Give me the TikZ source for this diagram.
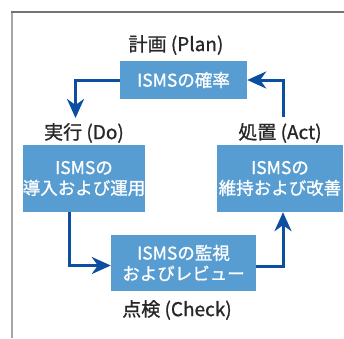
\documentclass[tikz,border=0pt]{standalone}
\usepackage{fontspec}
\setmainfont{Noto Sans CJK JP}[FakeBold=0.8]
\newfontfamily\boldish{Noto Sans CJK JP}[FakeBold=1.0]
\usetikzlibrary{arrows.meta}
\definecolor{boxblue}{RGB}{88,157,209}
\definecolor{arrowblue}{RGB}{12,78,160}
\definecolor{lbl}{RGB}{40,38,40}
\tikzset{
  box/.style={fill=boxblue, text=white, inner sep=0pt, align=center,
    font=\boldish\fontsize{17.5}{20.5}\selectfont},
  lab/.style={text=lbl, inner sep=0pt, font=\boldish\fontsize{19}{20}\selectfont},
  flow/.style={draw=arrowblue, line width=3pt,
    -{Stealth[length=19pt,width=17pt,inset=6pt]}},
}
\begin{document}
\begin{tikzpicture}[x=1pt,y=-1pt]
\useasboundingbox (0,0) rectangle (344,338);
\draw[draw=black!35, line width=2pt] (12,12) -- (12,338);
\draw[draw=black!55, line width=1.4pt] (11,12) -- (344,12);

\node[box, minimum width=127pt, minimum height=38pt] (plan) at (183.5,80) {ISMSの確率};
\node[box, minimum width=120pt, minimum height=67pt] (do) at (84,178.5) {ISMSの\\導入および運用};
\node[box, minimum width=126pt, minimum height=67pt] (act) at (280,178.5) {ISMSの\\維持および改善};
\node[box, minimum width=145pt, minimum height=56pt] (check) at (183.5,263) {ISMSの監視\\およびレビュー};

\node[lab] (planlbl) at (176,45) {計画 (Plan)};
\node[lab] (dolbl) at (84,133) {実行 (Do)};
\node[lab] (actlbl) at (280,133) {処置 (Act)};
\node[lab] (checklbl) at (177,310) {点検 (Check)};

\coordinate (doin) at (75.5,118);
\coordinate (actout) at (283,117);

\draw[flow] (plan.west) -| (doin);
\draw[flow] ([xshift=-15pt]do.south) |- ([yshift=-2.5pt]check.west);
\draw[flow] ([yshift=-3pt]check.east) -| ([xshift=3pt]act.south);
\draw[flow] (actout) |- (plan.east);
\end{tikzpicture}
\end{document}
